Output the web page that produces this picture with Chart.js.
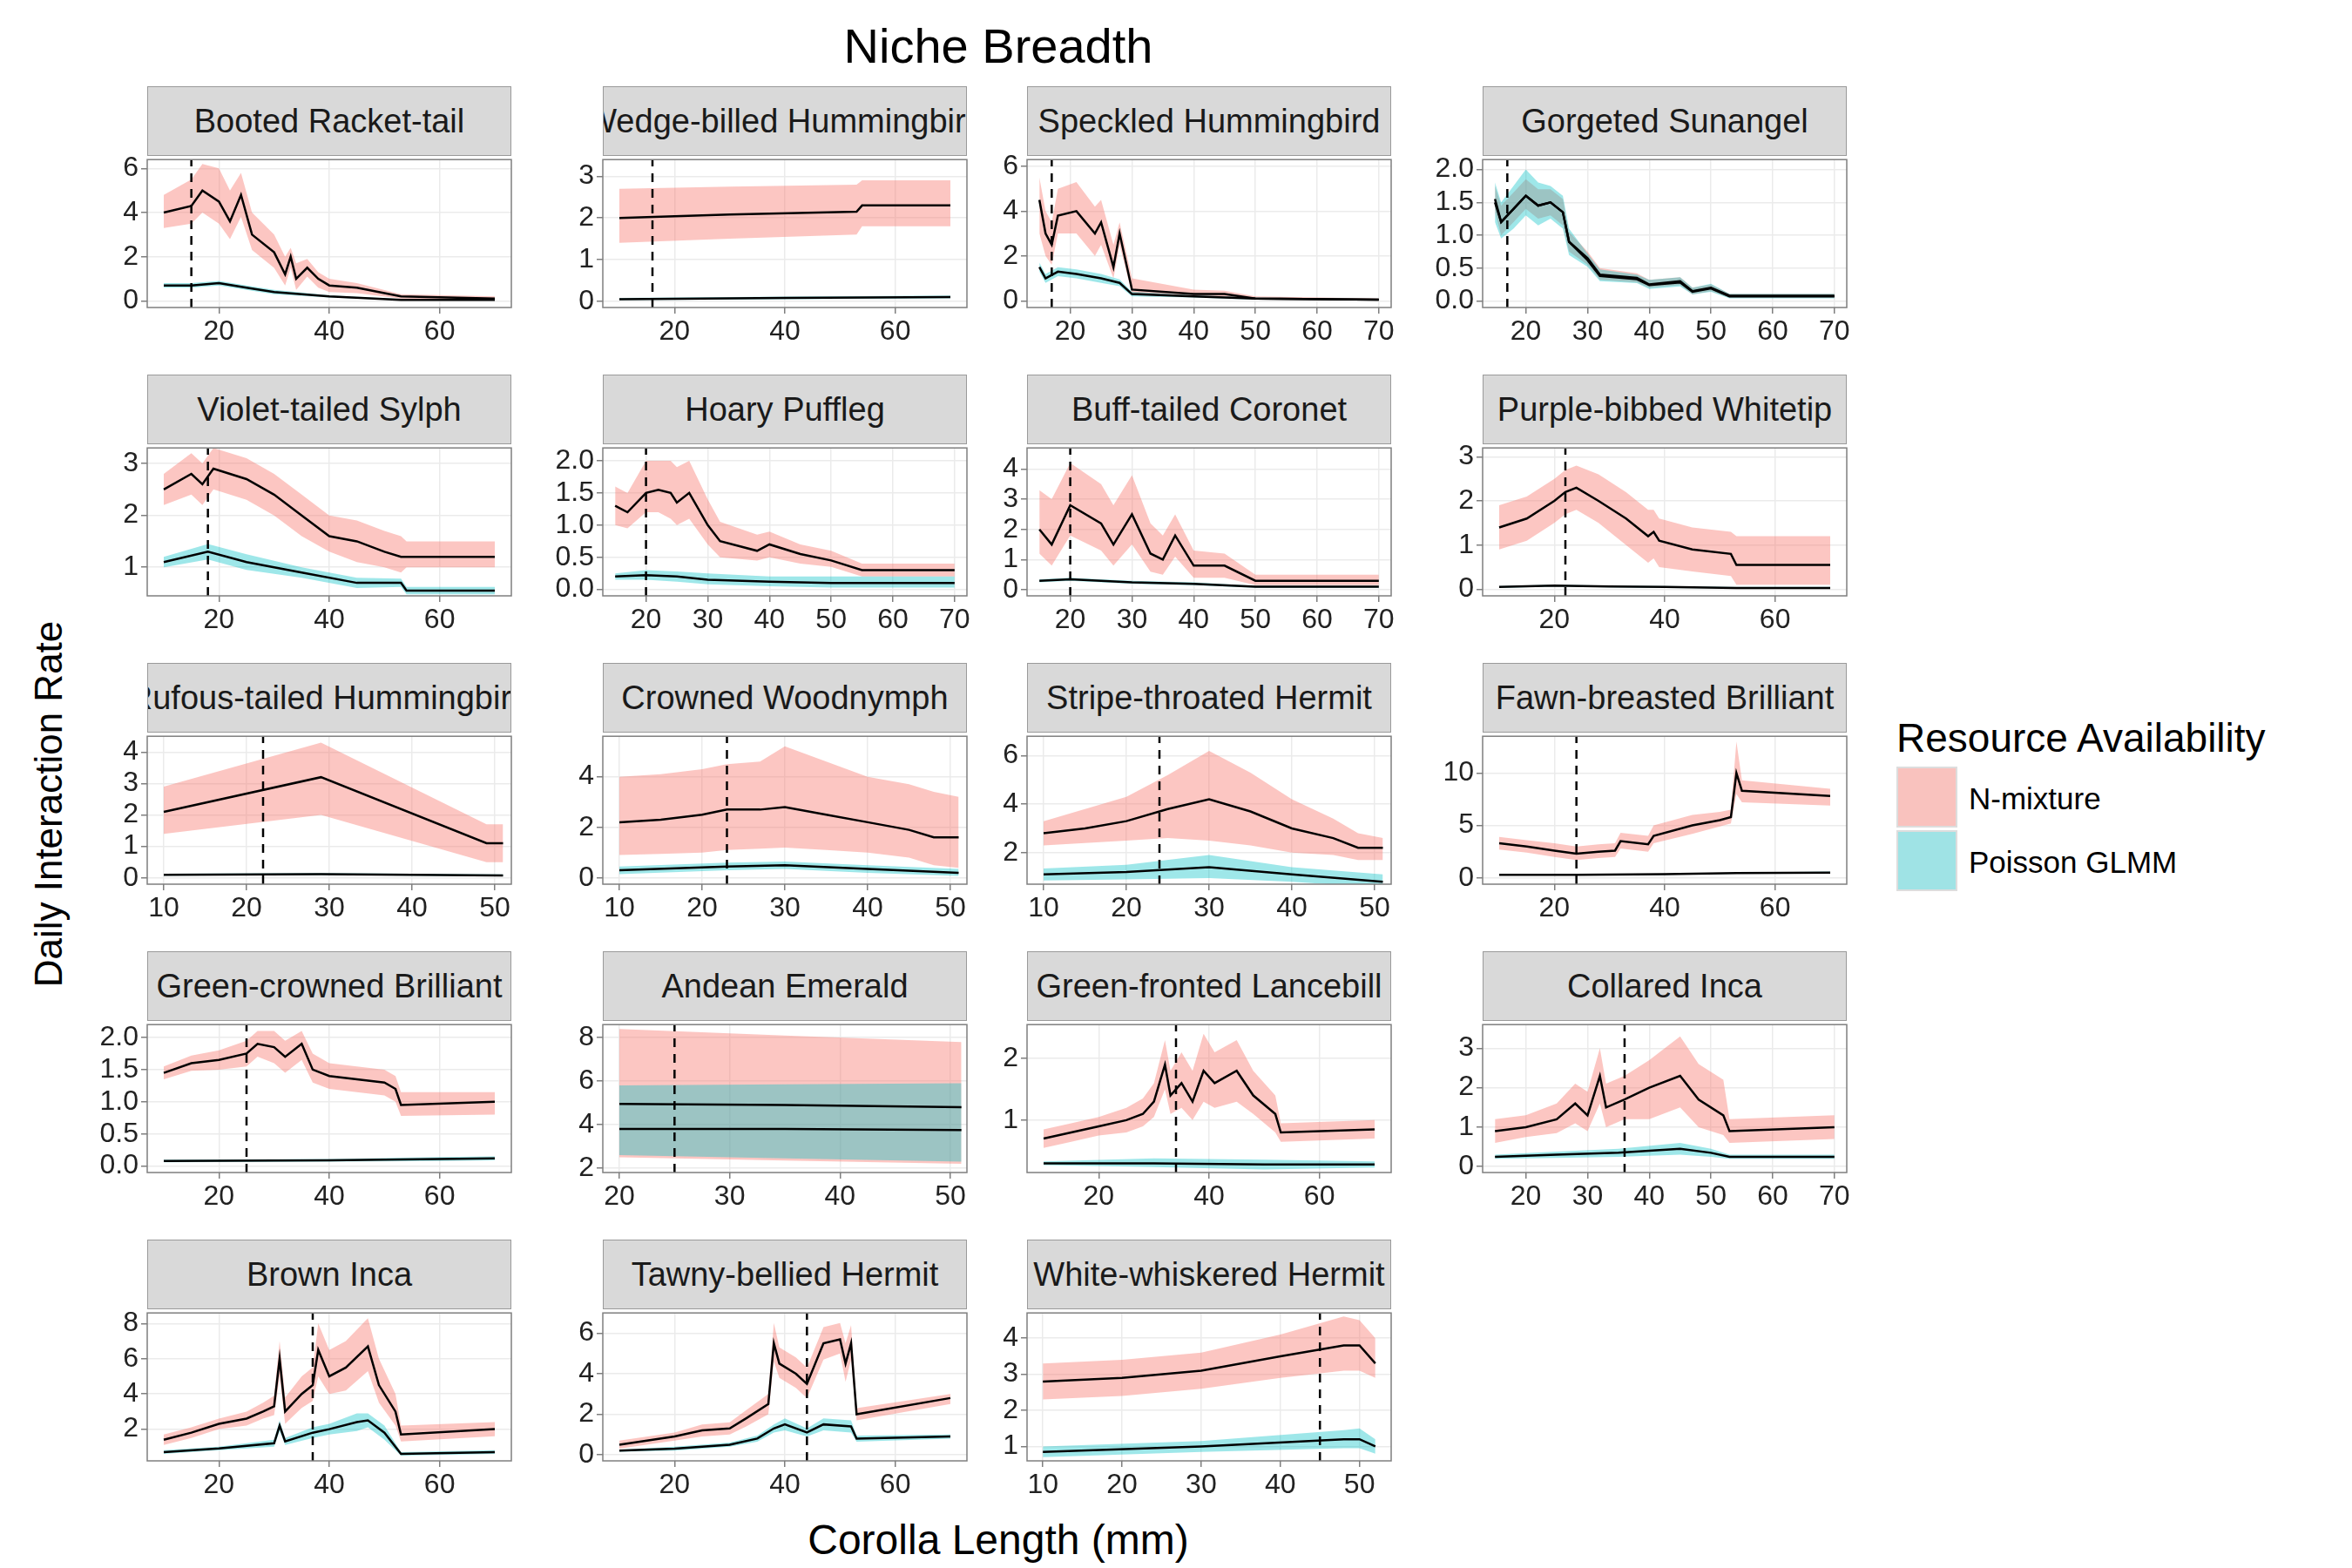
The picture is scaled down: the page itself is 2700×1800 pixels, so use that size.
<!DOCTYPE html>
<html><head><meta charset="utf-8">
<script src="https://cdn.jsdelivr.net/npm/chart.js@4"></script>
<style>
body{margin:0;width:2700px;height:1800px;background:#fff;font-family:Arial,"Liberation Sans",sans-serif;position:relative;overflow:hidden}
.strip{position:absolute;background:#d9d9d9;border:1px solid #9a9a9a;box-sizing:border-box;display:flex;justify-content:center;align-items:center;overflow:hidden;white-space:nowrap;font-size:38px;color:#1a1a1a}
.box{position:absolute}
.txt{position:absolute;white-space:nowrap;color:#000}
</style></head><body>
<div class="txt" style="left:1146px;top:20px;font-size:56px;transform:translateX(-50%)">Niche Breadth</div>
<div class="txt" style="left:56px;top:923px;font-size:44px;transform:translate(-50%,-50%) rotate(-90deg)">Daily Interaction Rate</div>
<div class="txt" style="left:1146px;top:1740px;font-size:48px;transform:translateX(-50%)">Corolla Length (mm)</div>
<div class="txt" style="left:2177px;top:820px;font-size:46px">Resource Availability</div>
<div style="position:absolute;left:2177px;top:880px;width:70px;height:70px;background:#f9c2be;border:2px solid #ddd;box-sizing:border-box"></div>
<div style="position:absolute;left:2177px;top:953px;width:70px;height:70px;background:#9fe3e5;border:2px solid #ddd;box-sizing:border-box"></div>
<div class="txt" style="left:2260px;top:897px;font-size:35px">N-mixture</div>
<div class="txt" style="left:2260px;top:970px;font-size:35px">Poisson GLMM</div>
<script>
const species = ["Booted Racket-tail","Wedge-billed Hummingbird","Speckled Hummingbird","Gorgeted Sunangel","Violet-tailed Sylph","Hoary Puffleg","Buff-tailed Coronet","Purple-bibbed Whitetip","Rufous-tailed Hummingbird","Crowned Woodnymph","Stripe-throated Hermit","Fawn-breasted Brilliant","Green-crowned Brilliant","Andean Emerald","Green-fronted Lancebill","Collared Inca","Brown Inca","Tawny-bellied Hermit","White-whiskered Hermit"];
const nicheLine = [15,16,17,17,18,20,20,22,22,23,24,24,25,25,34,36,37,44,45];
const xRange = [[7,73],[7,73],[13,72],[13,72],[7,73],[13,72],[13,72],[7,73],[8,52],[8,52],[8,52],[7,73],[7,73],[18.5,51.5],[7,73],[13,72],[7,73],[7,73],[8,54]];
const xTicks = [[20,40,60],[20,40,60],[20,30,40,50,60,70],[20,30,40,50,60,70],[20,40,60],[20,30,40,50,60,70],[20,30,40,50,60,70],[20,40,60],[10,20,30,40,50],[10,20,30,40,50],[10,20,30,40,50],[20,40,60],[20,40,60],[20,30,40,50],[20,40,60],[20,30,40,50,60,70],[20,40,60],[20,40,60],[10,20,30,40,50]];
const yRange = [[-0.3,6.4],[-0.15,3.4],[-0.3,6.3],[-0.1,2.15],[0.45,3.3],[-0.1,2.2],[-0.2,4.7],[-0.15,3.2],[-0.2,4.5],[-0.25,5.6],[0.7,6.8],[-0.6,13.5],[-0.1,2.2],[1.8,8.6],[0.15,2.55],[-0.15,3.6],[0.2,8.6],[-0.3,7.0],[0.6,4.7]];
const yTicks = [[0,2,4,6],[0,1,2,3],[0,2,4,6],[0,0.5,1,1.5,2],[1,2,3],[0,0.5,1,1.5,2],[0,1,2,3,4],[0,1,2,3],[0,1,2,3,4],[0,2,4],[2,4,6],[0,5,10],[0,0.5,1,1.5,2],[2,4,6,8],[1,2],[0,1,2,3],[2,4,6,8],[0,2,4,6],[1,2,3,4]];

// N-mixture: corolla x, mean, upper, lower
const nX = [
 [10,15,17,20,22,24,26,30,32,33,34,36,38,40,45,53,70],
 [10,30,53,54,70],
 [15,16,17,18,21,24,25,27,28,30,40,45,50,70],
 [15,16,18,20,22,24,26,27,30,32,38,40,45,47,50,53,70],
 [10,15,17,19,25,30,35,40,45,50,53,54,70],
 [15,17,20,22,24,25,27,30,32,38,40,45,50,55,70],
 [15,17,20,25,27,30,33,35,37,40,45,50,70],
 [10,15,20,22,24,28,33,37,38,39,45,52,53,70],
 [10,29,49,51],
 [10,15,20,23,27,30,35,40,45,48,51],
 [10,15,20,25,30,35,40,45,48,51],
 [10,15,20,24,28,31,32,37,38,45,50,52,53,54,70],
 [10,15,20,25,27,30,32,35,37,40,50,52,53,70],
 [20,35,51],
 [10,15,20,25,28,30,32,33,35,37,39,41,45,48,52,53,70],
 [15,20,25,28,30,32,33,36,40,45,48,52,53,70],
 [10,15,20,25,28,30,31,32,35,37,38,40,43,47,49,52,53,70],
 [10,20,25,30,33,37,38,39,42,44,47,50,51,52,53,70],
 [10,20,30,40,48,50,52]];
const nMid = [
 [4,4.3,5,4.5,3.6,4.8,3,2.2,1.2,2,1,1.5,1,0.7,0.6,0.2,0.1],
 [2.0,2.08,2.15,2.3,2.3],
 [4.5,3,2.5,3.8,4,3,3.5,1.5,3,0.5,0.3,0.3,0.1,0.05],
 [1.55,1.2,1.4,1.6,1.45,1.5,1.35,0.9,0.65,0.4,0.35,0.25,0.3,0.15,0.2,0.08,0.08],
 [2.5,2.8,2.6,2.9,2.7,2.4,2.0,1.6,1.5,1.3,1.2,1.2,1.2],
 [1.3,1.2,1.5,1.55,1.5,1.35,1.5,1.0,0.75,0.6,0.7,0.55,0.45,0.3,0.3],
 [2,1.5,2.8,2.2,1.5,2.5,1.2,1.0,1.8,0.8,0.8,0.3,0.3],
 [1.4,1.6,2.0,2.2,2.3,2.0,1.6,1.2,1.3,1.1,0.9,0.8,0.55,0.55],
 [2.1,3.2,1.1,1.1],
 [2.2,2.3,2.5,2.7,2.7,2.8,2.5,2.2,1.9,1.6,1.6],
 [2.8,3,3.3,3.8,4.2,3.7,3.0,2.6,2.2,2.2],
 [3.3,3,2.6,2.3,2.5,2.6,3.5,3.2,4.0,5,5.5,5.8,10,8.3,7.8],
 [1.45,1.6,1.65,1.75,1.9,1.85,1.7,1.9,1.5,1.4,1.3,1.2,0.95,1.0],
 [3.8,3.8,3.75],
 [0.7,0.8,0.9,1.0,1.1,1.3,1.9,1.4,1.6,1.3,1.8,1.6,1.8,1.4,1.1,0.8,0.85],
 [0.9,1.0,1.2,1.6,1.3,2.3,1.5,1.7,2.0,2.3,1.7,1.3,0.9,1.0],
 [1.4,1.8,2.3,2.6,3,3.3,6,3,4,4.5,6.5,5,5.5,6.7,4.5,3,1.7,2.0],
 [0.5,0.9,1.2,1.3,1.8,2.5,5.5,4.5,4.0,3.5,5.5,5.7,4.5,5.5,2.0,2.8],
 [2.8,2.9,3.1,3.5,3.8,3.8,3.3]];
const nUp = [
 [4.8,5.5,6.2,6,5,5.8,4,3,2,2.4,1.7,1.9,1.3,1,0.8,0.3,0.2],
 [2.7,2.75,2.8,2.9,2.9],
 [5.5,4,3.5,5,5.3,4.2,4.5,2.5,3.5,1,0.5,0.45,0.2,0.1],
 [1.75,1.45,1.65,1.85,1.7,1.7,1.55,1.05,0.75,0.5,0.42,0.32,0.36,0.2,0.25,0.11,0.11],
 [2.8,3.2,3.0,3.3,3.1,2.8,2.4,2.0,1.9,1.7,1.6,1.5,1.5],
 [1.6,1.5,2.0,2.0,2.0,1.9,2.0,1.4,1.05,0.85,0.9,0.7,0.6,0.4,0.4],
 [3.3,3,4.2,3.5,2.8,3.8,2.2,1.8,2.5,1.3,1.2,0.5,0.5],
 [1.9,2.1,2.5,2.7,2.8,2.6,2.2,1.8,1.8,1.6,1.4,1.3,1.2,1.2],
 [2.9,4.3,1.7,1.7],
 [4,4.1,4.3,4.5,4.6,5.2,4.6,4,3.7,3.4,3.2],
 [3.3,3.8,4.3,5.2,6.2,5.3,4.2,3.4,2.8,2.6],
 [3.9,3.6,3.3,3,3.2,3.3,4.3,4,5,6,6.3,6.5,13,9.3,8.5],
 [1.55,1.72,1.8,1.95,2.1,2.1,1.95,2.1,1.75,1.6,1.5,1.4,1.15,1.15],
 [8.4,8.1,7.8],
 [0.85,0.95,1.05,1.2,1.35,1.6,2.3,1.8,2.1,1.8,2.4,2.1,2.3,1.8,1.4,0.95,1.0],
 [1.2,1.3,1.6,2.1,1.9,3,2.1,2.3,2.7,3.3,2.6,2.2,1.2,1.3],
 [1.7,2.1,2.6,3,3.5,3.9,7,3.8,5,5.5,8,6.5,7,8.3,6,4,2.2,2.4],
 [0.7,1.1,1.5,1.6,2.2,3,6.5,5.3,4.8,4.3,6.3,6.5,5.5,6.4,2.3,3.0],
 [3.3,3.4,3.6,4.1,4.6,4.5,4.0]];
const nLo = [
 [3.3,3.5,4,3.5,2.8,3.8,2.3,1.5,0.7,1.5,0.5,1.1,0.6,0.4,0.35,0.1,0.05],
 [1.4,1.5,1.6,1.8,1.8],
 [3,2,1.6,3,3,2,2.5,1,2.5,0.3,0.2,0.15,0.05,0.02],
 [1.35,1.0,1.2,1.4,1.25,1.3,1.15,0.75,0.55,0.32,0.28,0.2,0.24,0.1,0.15,0.05,0.05],
 [2.2,2.4,2.2,2.5,2.3,2.0,1.6,1.3,1.1,1.0,0.9,1.0,1.0],
 [1.0,0.95,1.2,1.2,1.1,1.0,1.1,0.7,0.5,0.45,0.5,0.4,0.35,0.2,0.2],
 [1.2,0.8,1.8,1.3,0.8,1.5,0.6,0.5,1.1,0.4,0.4,0.15,0.15],
 [0.9,1.1,1.5,1.7,1.8,1.5,1.0,0.6,0.7,0.5,0.4,0.3,0.1,0.1],
 [1.4,2.0,0.5,0.5],
 [0.9,0.95,1.0,1.1,1.15,1.2,1.1,1.0,0.8,0.5,0.4],
 [2.3,2.4,2.5,2.6,2.5,2.3,2,1.9,1.7,1.7],
 [2.7,2.4,2.0,1.7,1.9,2.0,2.8,2.5,3.3,4.2,4.9,5.2,8,7.2,6.9],
 [1.35,1.48,1.5,1.55,1.7,1.6,1.45,1.65,1.3,1.2,1.1,1.0,0.78,0.8],
 [2.5,2.35,2.2],
 [0.55,0.65,0.75,0.8,0.9,1.05,1.5,1.1,1.2,1.0,1.3,1.2,1.3,1.1,0.8,0.65,0.7],
 [0.6,0.75,0.85,1.1,0.9,1.6,1.0,1.2,1.2,1.5,1.0,0.8,0.6,0.7],
 [1.1,1.5,2.0,2.2,2.6,2.8,5,2.3,3.2,3.6,5,4,4.2,5.3,3.5,2.2,1.3,1.6],
 [0.3,0.7,0.9,1.0,1.4,2.0,4.6,3.8,3.3,2.8,4.7,5.0,3.6,4.7,1.7,2.5],
 [2.3,2.4,2.6,2.9,3.1,3.1,2.9]];

// Poisson GLMM: corolla x, mean, upper, lower
const pX = [
 [10,15,20,25,30,40,53,70],[10,40,70],[15,16,18,21,25,28,30,40,50,70],
 [15,16,18,20,22,24,26,27,30,32,38,40,45,47,50,53,70],
 [10,18,25,35,45,53,54,70],[15,20,25,30,40,50,70],[15,20,30,40,50,70],[10,20,30,40,53,70],
 [10,29,51],[10,23,30,40,51],[10,20,30,40,51],[10,24,40,53,70],[10,40,60,70],[20,35,51],
 [10,30,50,70],[15,25,35,45,50,53,70],[10,20,30,31,32,37,40,45,47,50,53,70],
 [10,20,30,35,38,40,44,47,52,53,70],[10,30,48,50,52]];
const pMid = [
 [0.7,0.7,0.8,0.6,0.4,0.2,0.05,0.05],[0.05,0.08,0.1],[1.5,1,1.3,1.2,1,0.8,0.3,0.2,0.1,0.05],
 [1.5,1.2,1.4,1.6,1.45,1.5,1.35,0.9,0.62,0.38,0.33,0.24,0.28,0.14,0.19,0.07,0.07],
 [1.1,1.3,1.1,0.9,0.7,0.7,0.55,0.55],[0.2,0.22,0.2,0.15,0.12,0.1,0.1],[0.3,0.35,0.25,0.2,0.1,0.1],[0.05,0.08,0.06,0.05,0.03,0.03],
 [0.1,0.12,0.08],[0.3,0.45,0.5,0.35,0.2],[1.1,1.2,1.4,1.1,0.8],[0.3,0.3,0.35,0.45,0.5],[0.08,0.09,0.11,0.12],[4.95,4.9,4.8],
 [0.3,0.3,0.28,0.28],[0.25,0.3,0.35,0.45,0.35,0.25,0.25],[0.7,0.9,1.2,2.2,1.3,1.8,2.0,2.4,2.5,1.8,0.6,0.7],
 [0.2,0.3,0.5,0.8,1.3,1.5,1.1,1.5,1.4,0.8,0.9],[0.85,1.0,1.2,1.2,1.0]];
const pUp = [
 [0.8,0.8,0.9,0.7,0.5,0.25,0.08,0.08],[0.08,0.11,0.14],[1.7,1.2,1.5,1.4,1.2,0.95,0.4,0.25,0.15,0.08],
 [1.8,1.5,1.75,2.0,1.8,1.75,1.6,1.1,0.72,0.48,0.4,0.32,0.36,0.2,0.26,0.11,0.11],
 [1.2,1.45,1.25,1.0,0.8,0.78,0.62,0.62],[0.25,0.3,0.28,0.25,0.2,0.2,0.2],[0.35,0.4,0.3,0.25,0.13,0.13],[0.07,0.1,0.08,0.07,0.05,0.05],
 [0.13,0.15,0.11],[0.45,0.6,0.65,0.5,0.35],[1.35,1.5,1.9,1.4,1.1],[0.35,0.35,0.4,0.5,0.6],[0.1,0.11,0.14,0.15],[5.8,5.85,5.9],
 [0.33,0.38,0.36,0.33],[0.3,0.38,0.45,0.6,0.45,0.3,0.3],[0.8,1.0,1.4,2.5,1.5,2.1,2.3,2.9,2.9,2.2,0.7,0.8],
 [0.25,0.4,0.6,0.95,1.5,1.8,1.3,1.8,1.7,0.95,1.0],[1.0,1.15,1.45,1.5,1.2]];
const pLo = [
 [0.6,0.6,0.7,0.5,0.3,0.15,0.03,0.03],[0.03,0.05,0.07],[1.3,0.8,1.1,1.0,0.8,0.65,0.2,0.15,0.05,0.03],
 [1.2,0.95,1.1,1.3,1.15,1.25,1.1,0.7,0.52,0.3,0.27,0.18,0.22,0.1,0.14,0.04,0.04],
 [1.0,1.15,0.95,0.8,0.6,0.62,0.48,0.48],[0.15,0.15,0.12,0.08,0.05,0.03,0.03],[0.25,0.3,0.2,0.15,0.07,0.07],[0.03,0.06,0.04,0.03,0.02,0.02],
 [0.07,0.09,0.05],[0.15,0.3,0.35,0.2,0.08],[0.85,0.9,0.95,0.8,0.55],[0.25,0.25,0.3,0.4,0.4],[0.06,0.07,0.08,0.09],[2.6,2.45,2.3],
 [0.27,0.24,0.2,0.23],[0.2,0.22,0.25,0.3,0.25,0.2,0.2],[0.6,0.8,1.0,1.9,1.1,1.5,1.7,1.9,2.1,1.4,0.5,0.6],
 [0.15,0.2,0.4,0.65,1.1,1.2,0.9,1.2,1.1,0.65,0.8],[0.7,0.85,0.95,0.95,0.8]];

const colLeft = [169,692,1179,1702], rowTop = [99,430,761,1092,1423];
const plotW = 418, plotH = 174, stripH = 80, yAxW = 82, xAxH = 48, padR = 14, topOver = 18;
const pts = (xs, ys) => xs.map((x, i) => ({x, y: ys[i]}));

const frame = {
  id: 'frame',
  afterDraw(c) {
    const a = c.chartArea, g = c.ctx;
    g.save(); g.strokeStyle = '#7f7f7f'; g.lineWidth = 1.5;
    g.strokeRect(a.left, a.top, a.right - a.left, a.bottom - a.top); g.restore();
  }
};

species.forEach((name, i) => {
  const L = colLeft[i % 4], T = rowTop[Math.floor(i / 4)];
  const s = document.createElement('div');
  s.className = 'strip';
  Object.assign(s.style, {left: L + 'px', top: T + 'px', width: plotW + 'px', height: stripH + 'px'});
  s.innerHTML = '<span>' + name + '</span>';
  const b = document.createElement('div');
  b.className = 'box';
  Object.assign(b.style, {left: (L - yAxW) + 'px', top: (T + stripH - topOver) + 'px', width: (plotW + yAxW + padR) + 'px', height: (plotH + xAxH + topOver) + 'px'});
  const cv = document.createElement('canvas');
  b.appendChild(cv); document.body.appendChild(b);
  document.body.appendChild(s);
  const [y0, y1] = yRange[i];
  const line = {borderColor: '#000', borderWidth: 2.5, pointRadius: 0, fill: false, tension: 0, order: 0};
  const band = {borderWidth: 0, pointRadius: 0, order: 2};
  new Chart(cv, {
    type: 'line',
    data: {datasets: [
      {data: pts(nX[i], nUp[i]), ...band, fill: '+1', backgroundColor: 'rgba(248,118,109,0.42)'},
      {data: pts(nX[i], nLo[i]), ...band, fill: false},
      {data: pts(pX[i], pUp[i]), ...band, order: 1, fill: '+1', backgroundColor: 'rgba(0,191,196,0.38)'},
      {data: pts(pX[i], pLo[i]), ...band, order: 1, fill: false},
      {data: pts(nX[i], nMid[i]), ...line},
      {data: pts(pX[i], pMid[i]), ...line},
      {data: [{x: nicheLine[i], y: y0}, {x: nicheLine[i], y: y1}], ...line, borderDash: [10, 8]}
    ]},
    options: {
      responsive: true, maintainAspectRatio: false, animation: false, devicePixelRatio: 1,
      layout: {padding: {right: padR, top: topOver, left: 0, bottom: 0}},
      plugins: {legend: {display: false}, tooltip: {enabled: false}},
      scales: {
        x: {type: 'linear', min: xRange[i][0], max: xRange[i][1],
          afterBuildTicks: sc => { sc.ticks = xTicks[i].map(v => ({value: v})); },
          afterFit: sc => { sc.height = xAxH; },
          grid: {color: '#ebebeb', tickColor: '#7f7f7f', tickLength: 7, lineWidth: 1.5},
          border: {display: false},
          ticks: {font: {size: 32, family: 'Arial'}, color: '#222', padding: 2, maxRotation: 0, autoSkip: false}},
        y: {min: y0, max: y1,
          afterBuildTicks: sc => { sc.ticks = yTicks[i].map(v => ({value: v})); },
          afterFit: sc => { sc.width = yAxW; },
          grid: {color: '#ebebeb', tickColor: '#7f7f7f', tickLength: 7, lineWidth: 1.5},
          border: {display: false},
          ticks: {font: {size: 32, family: 'Arial'}, color: '#222', padding: 3, autoSkip: false,
            callback: v => (yTicks[i].some(t => t % 1 !== 0) ? v.toFixed(1) : String(v))}}
      }
    },
    plugins: [frame]
  });
});
</script>
</body></html>
